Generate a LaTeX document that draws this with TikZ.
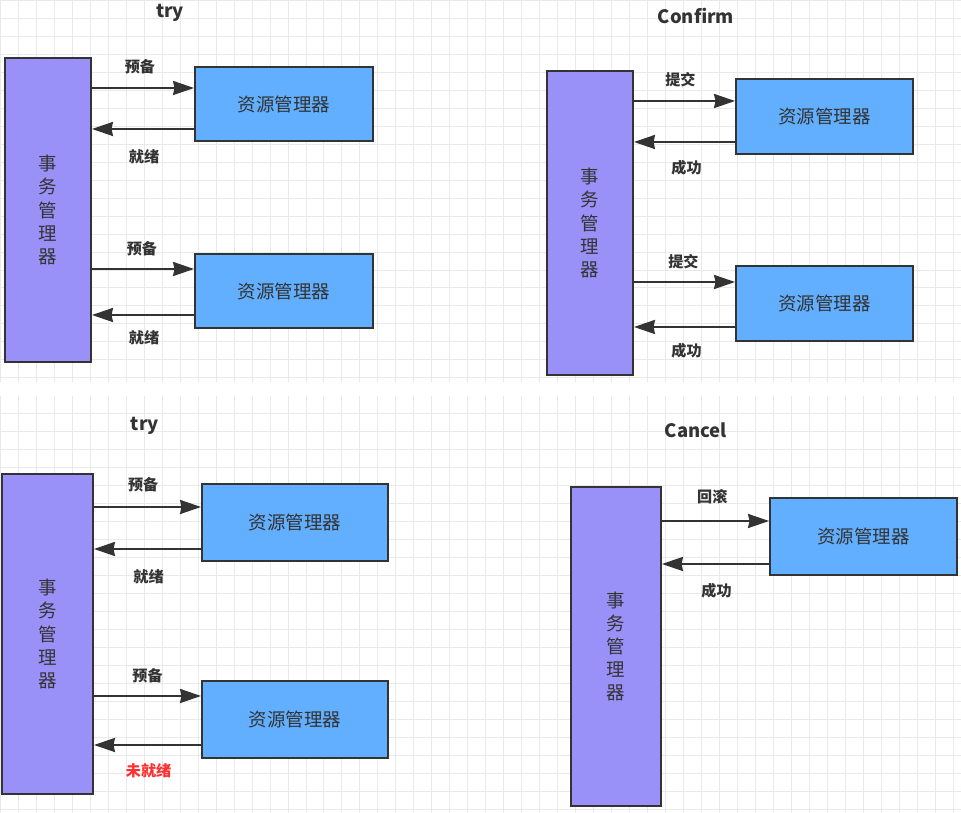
\documentclass[tikz,border=0pt]{standalone}
\usepackage{fontspec}
\setmainfont{Noto Sans CJK SC}
\usepackage{tikz}
\usetikzlibrary{positioning, calc}
\usetikzlibrary{arrows.meta}
\definecolor{tmfill}{HTML}{9A91F8}
\definecolor{rmfill}{HTML}{62AFFF}
\definecolor{inkgray}{HTML}{333333}
\definecolor{gridgray}{HTML}{E9E9E9}
\definecolor{failred}{HTML}{FF3030}
\tikzstyle{tmbox}=[rectangle,draw=inkgray,line width=1.1pt,fill=tmfill,
text=inkgray,align=center,font=\fontsize{10.5}{13.1}\selectfont]
\tikzstyle{rmbox}=[rectangle,draw=inkgray,line width=1.1pt,fill=rmfill,
text=inkgray,font=\fontsize{10.5}{12}\selectfont]
\tikzstyle{textbox}=[inner sep=0pt,text=inkgray,
font=\fontsize{8.6}{10}\selectfont\bfseries]
\tikzstyle{titlebox}=[inner sep=0pt,text=inkgray,
font=\fontsize{10.5}{12}\selectfont\bfseries]
\tikzstyle{edgepath} = [-{Stealth[length=0.42cm,width=0.28cm,inset=0.03cm]},
draw=inkgray,line width=1.3pt]

\begin{document}
\begin{tikzpicture}[x=0.02cm,y=-0.02cm]
    \useasboundingbox (0,0) rectangle (961,813);
    \fill[white] (0,0) rectangle (961,813);
    \draw[gridgray, line width=0.5pt, step=0.36cm] (0,0) grid (961,382);
    \draw[gridgray, line width=0.5pt, step=0.36cm] (0,396) grid (961,813);

    % try
    \node[titlebox] (tryA) at (170,13) {try};
    \node[tmbox, minimum width=1.72cm, minimum height=6.08cm] (tmA) at (48,210) {事\\务\\管\\理\\器};
    \node[rmbox, minimum width=3.56cm, minimum height=1.48cm] (rmA1) at (284,104) {资源管理器};
    \node[rmbox, minimum width=3.56cm, minimum height=1.48cm] (rmA2) at (284,291) {资源管理器};
    \draw[edgepath] (tmA.east |- 0,88) -- node[textbox, pos=.47, yshift=0.42cm] (pA1) {预备} (rmA1.west |- 0,88);
    \draw[edgepath] (rmA1.west |- 0,129) -- node[textbox, pos=.49, yshift=-0.56cm] (rA1) {就绪} (tmA.east |- 0,129);
    \draw[edgepath] (tmA.east |- 0,269) -- node[textbox, pos=.49, yshift=0.4cm] (pA2) {预备} (rmA2.west |- 0,269);
    \draw[edgepath] (rmA2.west |- 0,315) -- node[textbox, pos=.49, yshift=-0.46cm] (rA2) {就绪} (tmA.east |- 0,315);

    % confirm
    \node[titlebox] (tryB) at (696,16) {Confirm};
    \node[tmbox, minimum width=1.72cm, minimum height=6.08cm] (tmB) at (590,223) {事\\务\\管\\理\\器};
    \node[rmbox, minimum width=3.54cm, minimum height=1.5cm] (rmB1) at (824.5,116.5) {资源管理器};
    \node[rmbox, minimum width=3.54cm, minimum height=1.5cm] (rmB2) at (824.5,303.5) {资源管理器};
    \draw[edgepath] (tmB.east |- 0,101) -- node[textbox, pos=.46, yshift=0.42cm] (cB1) {提交} (rmB1.west |- 0,101);
    \draw[edgepath] (rmB1.west |- 0,142) -- node[textbox, pos=.48, yshift=-0.52cm] (sB1) {成功} (tmB.east |- 0,142);
    \draw[edgepath] (tmB.east |- 0,282) -- node[textbox, pos=.49, yshift=0.4cm] (cB2) {提交} (rmB2.west |- 0,282);
    \draw[edgepath] (rmB2.west |- 0,327) -- node[textbox, pos=.48, yshift=-0.48cm] (sB2) {成功} (tmB.east |- 0,327);

    % try, second run
    \node[titlebox] (tryC) at (145,426) {try};
    \node[tmbox, minimum width=1.82cm, minimum height=6.4cm] (tmC) at (47.5,634) {事\\务\\管\\理\\器};
    \node[rmbox, minimum width=3.72cm, minimum height=1.54cm] (rmC1) at (295,522.5) {资源管理器};
    \node[rmbox, minimum width=3.72cm, minimum height=1.54cm] (rmC2) at (295,719.5) {资源管理器};
    \draw[edgepath] (tmC.east |- 0,507) -- node[textbox, pos=.46, yshift=0.44cm] (pC1) {预备} (rmC1.west |- 0,507);
    \draw[edgepath] (rmC1.west |- 0,549) -- node[textbox, pos=.49, yshift=-0.56cm] (rC1) {就绪} (tmC.east |- 0,549);
    \draw[edgepath] (tmC.east |- 0,696) -- node[textbox, pos=.5, yshift=0.4cm] (pC2) {预备} (rmC2.west |- 0,696);
    \draw[edgepath] (rmC2.west |- 0,745) -- node[textbox, pos=.49, yshift=-0.52cm, text=failred] (rC2) {未就绪} (tmC.east |- 0,745);

    % cancel
    \node[titlebox] (tryD) at (696,430) {Cancel};
    \node[tmbox, minimum width=1.8cm, minimum height=6.38cm] (tmD) at (616,646.5) {事\\务\\管\\理\\器};
    \node[rmbox, minimum width=3.74cm, minimum height=1.54cm] (rmD) at (863.5,536.5) {资源管理器};
    \draw[edgepath] (tmD.east |- 0,521) -- node[textbox, pos=.47, yshift=0.48cm] (bD) {回滚} (rmD.west |- 0,521);
    \draw[edgepath] (rmD.west |- 0,564) -- node[textbox, pos=.49, yshift=-0.54cm] (sD) {成功} (tmD.east |- 0,564);
\end{tikzpicture}
\end{document}
